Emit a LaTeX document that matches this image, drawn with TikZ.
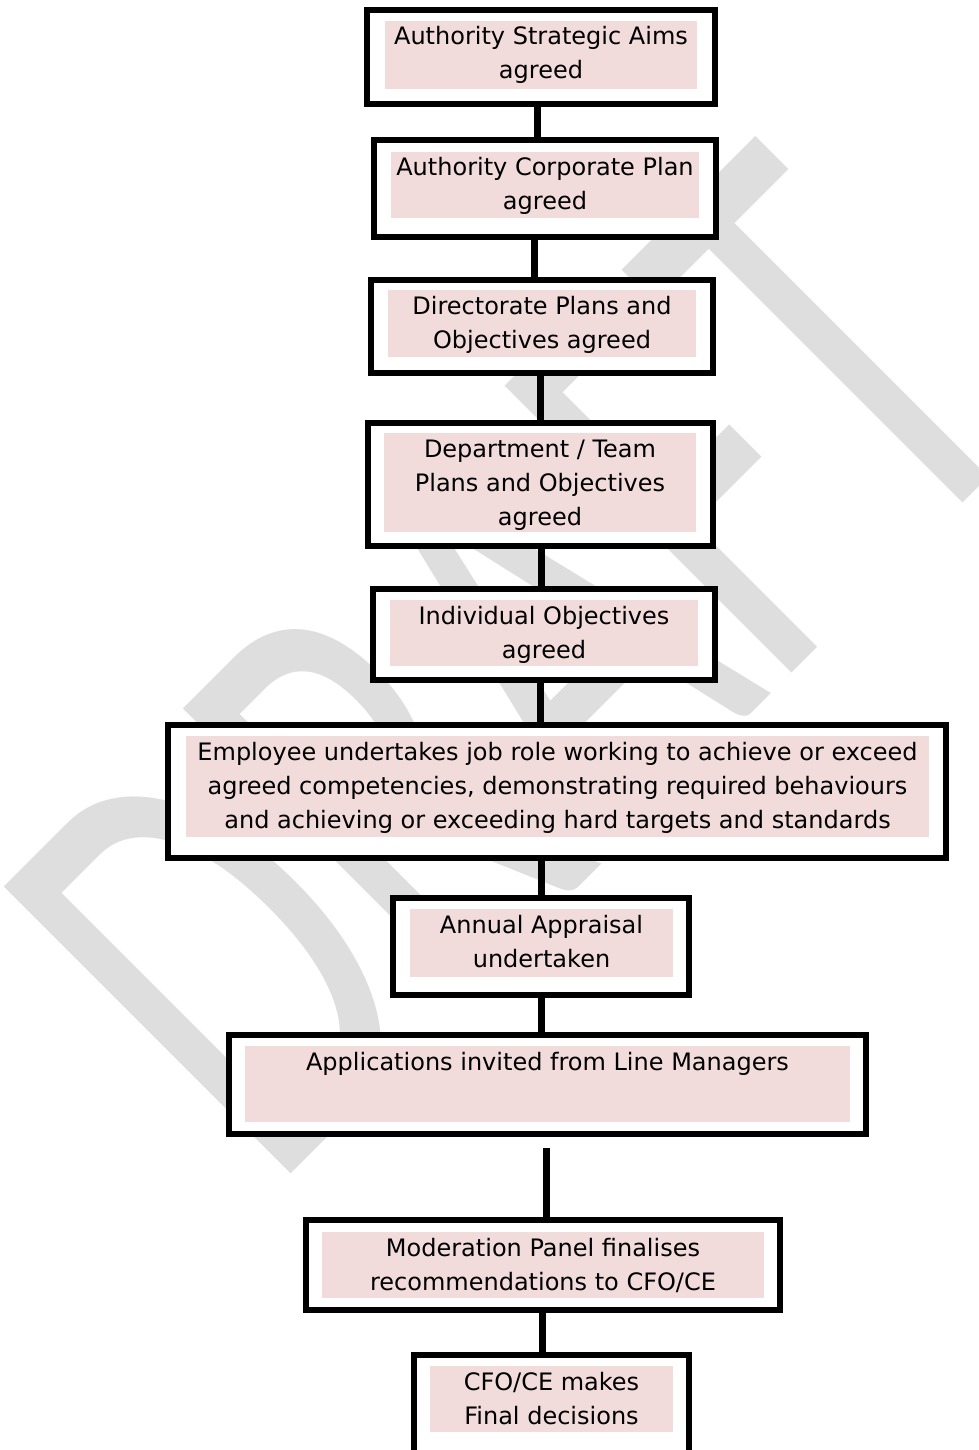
\documentclass[tikz,border=0pt]{standalone}
\usepackage{fontspec}
\setmainfont{DejaVu Sans}
\newfontfamily\wmfont{Carlito}
\definecolor{pinkc}{HTML}{F2DCDB}
\definecolor{wmgray}{RGB}{222,222,222}
\tikzset{
  frame/.style={draw=black, line width=6pt, fill=white, inner sep=0pt, outer sep=0pt},
  pinkbox/.style={fill=pinkc, draw=none, inner sep=0pt, outer sep=0pt},
  txt/.style={font=\fontsize{24}{34}\selectfont, align=center, inner sep=0pt, anchor=north},
  conn/.style={draw=black, line width=7pt},
  wm/.style={text=wmgray, font=\wmfont\fontsize{408}{430}\selectfont, inner sep=0pt}
}
\begin{document}
\begin{tikzpicture}[x=1pt, y=-1pt]
\useasboundingbox (0,0) rectangle (979,1450);
\fill[white] (0,0) rectangle (979,1450);
% watermark
\node[wm, rotate=45, yscale=1.55, transform shape] (wmk) at (515.5,663) {DRAFT};
% boxes
\node[frame, minimum width=348pt, minimum height=94pt] (b1) at (541,57) {};
\node[pinkbox, minimum width=312pt, minimum height=68pt] (p1) at (541,55) {};
\node[txt] (t1) at (p1.north) {\strut Authority Strategic Aims\\agreed};

\node[frame, minimum width=342pt, minimum height=97pt] (b2) at (545,188.5) {};
\node[pinkbox, minimum width=308pt, minimum height=66pt] (p2) at (545,185) {};
\node[txt] (t2) at (p2.north) {\strut Authority Corporate Plan\\agreed};

\node[frame, minimum width=342pt, minimum height=93pt] (b3) at (542,326.5) {};
\node[pinkbox, minimum width=308pt, minimum height=67pt] (p3) at (542,323.5) {};
\node[txt] (t3) at (p3.north) {\strut Directorate Plans and\\Objectives agreed};

\node[frame, minimum width=345pt, minimum height=123pt] (b4) at (540.5,484.5) {};
\node[pinkbox, minimum width=312pt, minimum height=99pt] (p4) at (540,482.5) {};
\node[txt] (t4) at (p4.north) {\strut Department / Team\\Plans and Objectives\\agreed};

\node[frame, minimum width=342pt, minimum height=91pt] (b5) at (544,634.5) {};
\node[pinkbox, minimum width=308pt, minimum height=66pt] (p5) at (544,633) {};
\node[txt] (t5) at (p5.north) {\strut Individual Objectives\\agreed};

\node[frame, minimum width=778pt, minimum height=133pt] (b6) at (557,791.5) {};
\node[pinkbox, minimum width=743pt, minimum height=101pt] (p6) at (557.5,786.5) {};
\node[txt] (t6) at (p6.north) {\strut Employee undertakes job role working to achieve or exceed\\agreed competencies, demonstrating required behaviours\\and achieving or exceeding hard targets and standards};

\node[frame, minimum width=296pt, minimum height=97pt] (b7) at (541,946.5) {};
\node[pinkbox, minimum width=263pt, minimum height=68pt] (p7) at (541.5,943) {};
\node[txt] (t7) at (p7.north) {\strut Annual Appraisal\\undertaken};

\node[frame, minimum width=637pt, minimum height=99pt] (b8) at (547.5,1084.5) {};
\node[pinkbox, minimum width=605pt, minimum height=76pt] (p8) at (547.5,1084) {};
\node[txt] (t8) at (p8.north) {\strut Applications invited from Line Managers};

\node[frame, minimum width=474pt, minimum height=90pt] (b9) at (543,1265) {};
\node[pinkbox, minimum width=442pt, minimum height=66pt] (p9) at (543,1265) {};
\node[txt] (t9) at (p9.north) {\strut Moderation Panel finalises\\recommendations to CFO/CE};

\node[frame, minimum width=275pt, minimum height=104pt] (b10) at (551.5,1407) {};
\node[pinkbox, minimum width=243pt, minimum height=66pt] (p10) at (551.5,1399) {};
\node[txt] (t10) at (p10.north) {\strut CFO/CE makes\\Final decisions};

% connectors
\draw[conn] (537,0 |- b1.south) -- (537,0 |- b2.north);
\draw[conn] (534,0 |- b2.south) -- (534,0 |- b3.north);
\draw[conn] (540,0 |- b3.south) -- (540,0 |- b4.north);
\draw[conn] (541,0 |- b4.south) -- (541,0 |- b5.north);
\draw[conn] (540,0 |- b5.south) -- (540,0 |- b6.north);
\draw[conn] (541,0 |- b6.south) -- (541,0 |- b7.north);
\draw[conn] (541,0 |- b7.south) -- (541,0 |- b8.north);
\coordinate (gap89) at (546,1148);
\draw[conn] (gap89) -- (546,0 |- b9.north);
\draw[conn] (542,0 |- b9.south) -- (542,0 |- b10.north);
\end{tikzpicture}
\end{document}
